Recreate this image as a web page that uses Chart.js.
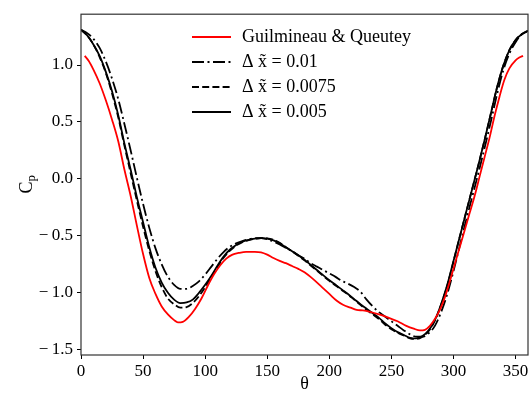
<!DOCTYPE html>
<html>
<head>
<meta charset="utf-8">
<script src="https://cdn.jsdelivr.net/npm/chart.js@4.4.0/dist/chart.umd.min.js"></script>
<style>
  html, body { margin: 0; padding: 0; background: #fff; }
</style>
</head>
<body>
<canvas id="cpChart" width="531" height="394"></canvas>
<script>
// --- data ---
const thetaSim = [0,5,10,15,20,25,30,35,40,45,50,55,60,65,70,75,80,85,90,95,100,105,110,115,120,125,130,135,140,145,150,155,160,165,170,175,180,185,190,195,200,205,210,215,220,225,230,235,240,245,250,255,260,265,270,275,280,285,290,295,300,305,310,315,320,325,330,335,340,345,350,355,360];

const cpDx010 = [1.31,1.28,1.23,1.15,1.03,0.88,0.70,0.48,0.25,0.01,-0.22,-0.43,-0.61,-0.75,-0.86,-0.93,-0.965,-0.965,-0.94,-0.90,-0.84,-0.77,-0.70,-0.64,-0.595,-0.565,-0.545,-0.53,-0.52,-0.52,-0.53,-0.55,-0.575,-0.605,-0.635,-0.67,-0.70,-0.74,-0.77,-0.80,-0.83,-0.86,-0.895,-0.92,-0.95,-0.99,-1.06,-1.12,-1.17,-1.21,-1.25,-1.29,-1.33,-1.365,-1.385,-1.385,-1.355,-1.29,-1.17,-1.01,-0.81,-0.59,-0.37,-0.16,0.05,0.27,0.50,0.74,0.95,1.10,1.20,1.27,1.30];

const cpDx0075 = [1.31,1.26,1.18,1.07,0.93,0.75,0.54,0.29,0.05,-0.19,-0.42,-0.63,-0.81,-0.95,-1.05,-1.10,-1.13,-1.125,-1.09,-1.03,-0.95,-0.86,-0.77,-0.69,-0.63,-0.585,-0.555,-0.537,-0.526,-0.52,-0.522,-0.535,-0.56,-0.60,-0.637,-0.675,-0.715,-0.76,-0.805,-0.85,-0.895,-0.935,-0.975,-1.015,-1.06,-1.105,-1.15,-1.19,-1.23,-1.28,-1.32,-1.35,-1.375,-1.40,-1.405,-1.385,-1.335,-1.245,-1.105,-0.935,-0.725,-0.51,-0.30,-0.09,0.12,0.34,0.57,0.80,0.99,1.13,1.22,1.27,1.30];

const cpDx005 = [1.31,1.26,1.18,1.08,0.94,0.77,0.56,0.31,0.08,-0.16,-0.38,-0.60,-0.78,-0.91,-1.00,-1.06,-1.09,-1.085,-1.06,-1.00,-0.93,-0.85,-0.76,-0.68,-0.62,-0.58,-0.55,-0.535,-0.525,-0.52,-0.525,-0.54,-0.565,-0.60,-0.635,-0.67,-0.71,-0.755,-0.80,-0.845,-0.89,-0.93,-0.97,-1.01,-1.055,-1.10,-1.14,-1.18,-1.22,-1.27,-1.31,-1.345,-1.37,-1.395,-1.40,-1.38,-1.33,-1.24,-1.10,-0.93,-0.72,-0.51,-0.30,-0.09,0.12,0.34,0.57,0.80,0.99,1.13,1.22,1.27,1.30];

const thetaRef = [3,6,10,15,20,25,30,35,40,45,50,55,60,65,70,75,78,82,87,92,97,102,107,112,117,122,127,133,140,145,150,155,160,165,170,175,180,187,194,200,206,211,217,222,227,232,240,248,255,262,268,273,277,281,285,289,293,297,301,305,309,313,317,321,325,329,333,337,341,345,350,353,356];

const cpRef = [1.08,1.04,0.96,0.84,0.69,0.52,0.33,0.08,-0.15,-0.41,-0.66,-0.87,-1.01,-1.12,-1.19,-1.24,-1.26,-1.255,-1.21,-1.14,-1.05,-0.94,-0.84,-0.76,-0.70,-0.665,-0.65,-0.64,-0.64,-0.645,-0.665,-0.695,-0.72,-0.74,-0.765,-0.79,-0.82,-0.88,-0.95,-1.01,-1.07,-1.105,-1.13,-1.15,-1.155,-1.165,-1.19,-1.22,-1.25,-1.29,-1.315,-1.33,-1.325,-1.29,-1.23,-1.15,-1.04,-0.90,-0.75,-0.60,-0.45,-0.30,-0.15,0.02,0.19,0.36,0.55,0.72,0.87,0.97,1.04,1.065,1.08];

const xTicks = [0,50,100,150,200,250,300,350];
const yTicks = [-1.5,-1.0,-0.5,0.0,0.5,1.0];

const seriesNames = ['Guilmineau & Queutey', '\u0394 x\u0303 = 0.01', '\u0394 x\u0303 = 0.0075', '\u0394 x\u0303 = 0.005'];

const serif = "'Liberation Serif', 'Times New Roman', serif";

const toPoints = (xs, ys) => xs.map((x, i) => ({ x: x, y: ys[i] }));

// draws the full frame, axis titles and the legend box in the upper middle
const framePlugin = {
    id: 'frame',
    afterDatasetsDraw(chart) {
        const ctx = chart.ctx;
        const a = chart.chartArea;
        ctx.save();
        ctx.strokeStyle = '#333';
        ctx.lineWidth = 1.2;
        ctx.strokeRect(a.left, a.top, a.right - a.left, a.bottom - a.top);

        // legend
        ctx.font = '18px ' + serif;
        ctx.textBaseline = 'middle';
        chart.data.datasets.forEach((ds, i) => {
            const y = 37 + i * 25;
            ctx.beginPath();
            ctx.setLineDash(ds.borderDash || []);
            ctx.strokeStyle = ds.borderColor;
            ctx.lineWidth = ds.borderWidth;
            ctx.moveTo(192, y);
            ctx.lineTo(231, y);
            ctx.stroke();
            ctx.setLineDash([]);
            ctx.fillStyle = '#000';
            ctx.textAlign = 'left';
            ctx.fillText(ds.label, 242, y);
        });

        // axis titles
        ctx.fillStyle = '#000';
        ctx.textAlign = 'center';
        ctx.font = '18px ' + serif;
        ctx.fillText('\u03b8', (a.left + a.right) / 2, 384);

        ctx.translate(27, (a.top + a.bottom) / 2);
        ctx.rotate(-Math.PI / 2);
        ctx.textAlign = 'left';
        ctx.font = '18px ' + serif;
        ctx.fillText('C', -9, 0);
        ctx.font = '13px ' + serif;
        ctx.fillText('p', 3, 5);
        ctx.restore();
    }
};

const ctx = document.getElementById('cpChart').getContext('2d');
new Chart(ctx, {
    type: 'line',
    data: {
        datasets: [
            { label: seriesNames[0], data: toPoints(thetaRef, cpRef), borderColor: '#ff0000', borderWidth: 1.8 },
            { label: seriesNames[1], data: toPoints(thetaSim, cpDx010), borderColor: '#000', borderWidth: 1.8, borderDash: [12, 3.5, 2, 3.5] },
            { label: seriesNames[2], data: toPoints(thetaSim, cpDx0075), borderColor: '#000', borderWidth: 1.8, borderDash: [7, 3.2] },
            { label: seriesNames[3], data: toPoints(thetaSim, cpDx005), borderColor: '#000', borderWidth: 1.8 }
        ]
    },
    options: {
        responsive: false,
        animation: false,
        parsing: true,
        elements: {
            point: { radius: 0 },
            line: { cubicInterpolationMode: 'monotone', fill: false }
        },
        layout: { padding: { top: 11, right: 3, left: 0, bottom: 0 } },
        plugins: {
            legend: { display: false },
            tooltip: { enabled: false }
        },
        scales: {
            x: {
                type: 'linear',
                min: 0,
                max: 360,
                afterFit: s => { s.height = 39; },
                afterBuildTicks: s => { s.ticks = xTicks.map(v => ({ value: v })); },
                border: { display: false },
                grid: { drawOnChartArea: false, drawTicks: true, tickLength: 4, color: '#000' },
                ticks: {
                    color: '#000',
                    padding: 2,
                    maxRotation: 0,
                    font: { family: serif, size: 17 },
                    callback: v => String(v)
                }
            },
            y: {
                type: 'linear',
                min: -1.546,
                max: 1.446,
                afterFit: s => { s.width = 81; },
                afterBuildTicks: s => { s.ticks = yTicks.map(v => ({ value: v })); },
                border: { display: false },
                grid: { drawOnChartArea: false, drawTicks: true, tickLength: 4, color: '#000' },
                ticks: {
                    color: '#000',
                    padding: 4,
                    font: { family: serif, size: 17 },
                    callback: v => (v < 0 ? '\u2212\u2009' : '') + Math.abs(v).toFixed(1)
                }
            }
        }
    },
    plugins: [framePlugin]
});
</script>
</body>
</html>
